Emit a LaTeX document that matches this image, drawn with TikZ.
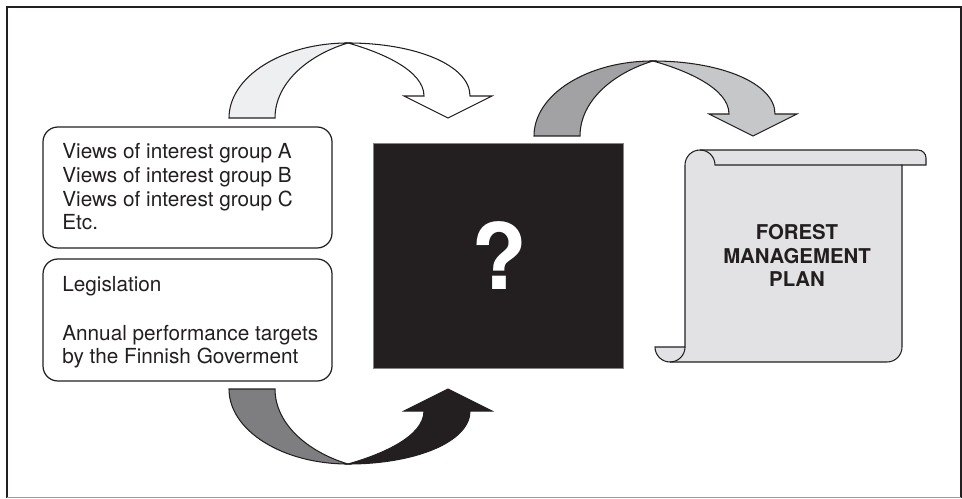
\documentclass[tikz,border=0pt]{standalone}
\usepackage{fontspec}
\setmainfont{TeX Gyre Heros}

\definecolor{inkc}{HTML}{231F20}
\definecolor{paleback}{HTML}{EEEFF1}
\definecolor{midback}{HTML}{A2A2A4}
\definecolor{midfront}{HTML}{C6C7C9}
\definecolor{darkback}{HTML}{7E7E81}
\definecolor{scrollfill}{HTML}{E2E2E4}

\tikzset{
  ink/.style={draw=inkc, line width=0.6pt, line join=miter},
  boxline/.style={draw=inkc, line width=0.7pt, rounded corners=8.5pt},
  txt/.style={inner sep=0pt, text=inkc, font=\fontsize{11.8pt}{13.4pt}\selectfont},
  boldtxt/.style={txt, font=\fontsize{11.6pt}{13.4pt}\selectfont\bfseries},
  % curved block arrow: back half (#1) rising from the tail, front half (#2) with the head
  pics/bentarrow/.style 2 args={code={
    \filldraw[ink, fill=#1] (-119,75) .. controls (-119,33.6) and (-65.7,0) .. (0,0)
        .. controls (-40,12) and (-73,40) .. (-73,75) -- cycle;
    \filldraw[ink, fill=#2] (0,0) .. controls (67,0) and (122,22) .. (122,53)
        -- (144,53) -- (100,75) -- (56,53) -- (76,53)
        .. controls (76,27) and (32,9) .. (0,0) -- cycle;
  }}
}

\begin{document}
\begin{tikzpicture}[x=0.02cm, y=-0.02cm]
\useasboundingbox (0,0) rectangle (962,499);

% outer frame
\draw[draw=inkc, line width=1.13pt] (7,497.5) -- (7,7) -- (960.5,7) -- (960.5,497.5);
\draw[draw=inkc!45, line width=0.6pt] (7,497.5) -- (960.5,497.5);

% input boxes
\draw[boxline] (43,127) rectangle (332,248);
\draw[boxline] (43,259) rectangle (332,381);

\node[txt, anchor=base west] (ga) at (62,159) {Views of interest group A};
\node[txt, anchor=base west] (gb) at (62,183) {Views of interest group B};
\node[txt, anchor=base west] (gc) at (62,207) {Views of interest group C};
\node[txt, anchor=base west] (etc) at (62,230) {Etc.};

\node[txt, anchor=base west] (leg) at (62,292) {Legislation};
\node[txt, anchor=base west] (apt) at (62,340) {Annual performance targets};
\node[txt, anchor=base west] (fin) at (62,363) {by the Finnish Goverment};

% black box
\filldraw[fill=inkc, draw=inkc!55, line width=0.5pt] (373,143) rectangle (623,368);
\node[inner sep=0pt, anchor=base, text=white,
      font=\fontsize{52pt}{52pt}\selectfont\bfseries] (q) at (499,290) {?};

% scroll
\filldraw[ink, fill=scrollfill] (685,347) -- (685,165)
    arc[start angle=180, end angle=270, radius=15] -- (918,150)
    arc[start angle=270, end angle=360, radius=8] -- (926,165) -- (902,165) -- (902,347)
    arc[start angle=0, end angle=90, radius=15] -- (670,362)
    arc[start angle=90, end angle=180, radius=15] -- cycle;
\draw[ink] (700,150) arc[start angle=270, end angle=360, radius=15] -- (902,165);
\draw[ink] (670,362) arc[start angle=90, end angle=0, radius=15];

\node[boldtxt, anchor=base] (fm1) at (797,240) {FOREST};
\node[boldtxt, anchor=base] (fm2) at (797,263.5) {MANAGEMENT};
\node[boldtxt, anchor=base] (fm3) at (797,287) {PLAN};

% curved arrows
\pic at (348,43) {bentarrow={paleback}{white}};
\pic at (653,61) {bentarrow={midback}{midfront}};
\pic[yscale=-1] at (348,464) {bentarrow={darkback}{inkc}};

\end{tikzpicture}
\end{document}
